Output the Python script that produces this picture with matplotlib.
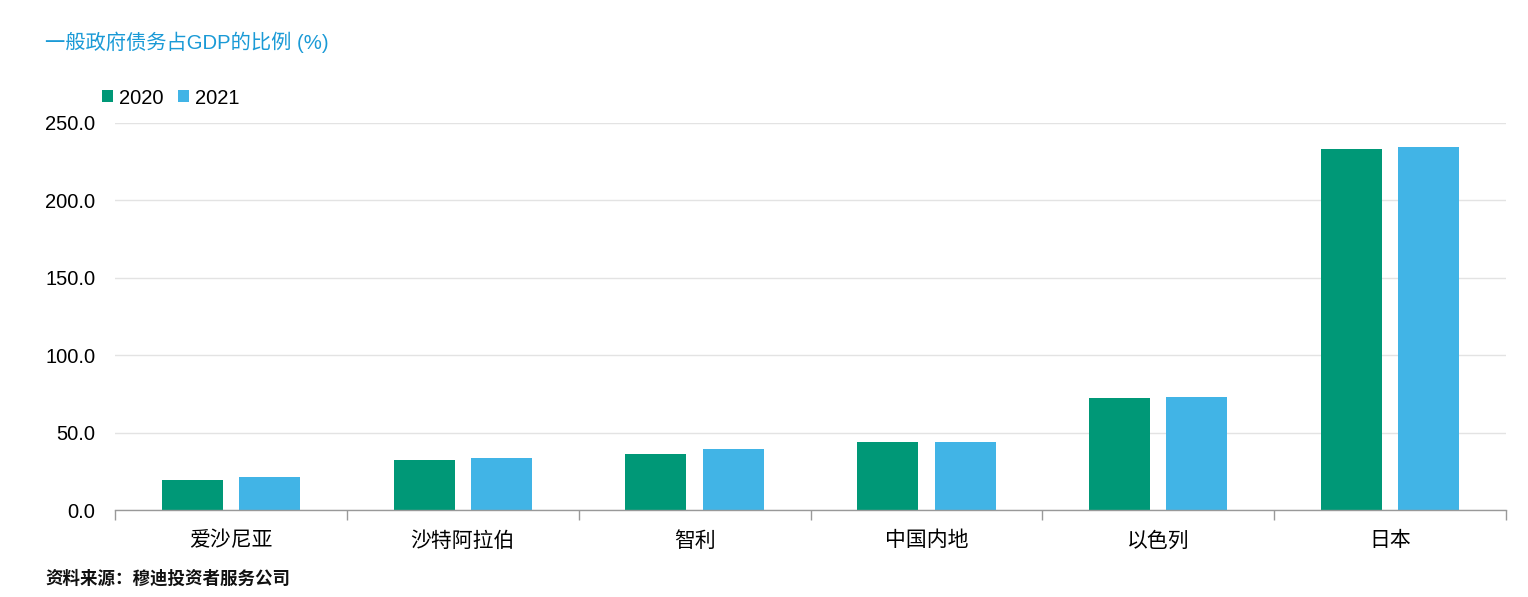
import matplotlib
matplotlib.use("Agg")
import matplotlib.pyplot as plt
import numpy as np

plt.rcParams['font.family'] = ['Liberation Sans', 'Noto Sans CJK SC', 'DejaVu Sans']

categories = ["爱沙尼亚", "沙特阿拉伯", "智利", "中国内地", "以色列", "日本"]
series_names = ["2020", "2021"]
values_2020 = [19.1, 32.6, 36.2, 43.9, 72.4, 233.4]
values_2021 = [21.6, 33.6, 39.1, 44.2, 73.0, 234.5]
yticks = [0, 50, 100, 150, 200, 250]

c2020 = "#009877"
c2021 = "#41b4e6"

fig = plt.figure(figsize=(15.28, 5.97), dpi=100)
ax = fig.add_axes([115/1528, 1-510/597, (1506-115)/1528, (510-123)/597])

x = np.arange(len(categories))
w = 0.263
off = 0.167
ax.bar(x - off, values_2020, width=w, color=c2020, label=series_names[0])
ax.bar(x + off, values_2021, width=w, color=c2021, label=series_names[1])

ax.set_xlim(-0.5, len(categories) - 0.5)
ax.set_ylim(0, 250)
ax.set_yticks(yticks)
ax.set_yticklabels([f"{v:.1f}" for v in yticks], fontsize=14.5)
ax.set_xticks(x)
ax.set_xticklabels(categories, fontsize=15)
ax.set_xticks(np.arange(-0.5, len(categories)), minor=True)
ax.tick_params(axis='x', which='major', length=0, pad=15)
ax.tick_params(axis='x', which='minor', length=7, color="#999999", width=1)
ax.tick_params(axis='y', length=0, pad=14)
ax.grid(axis='y', color="#e3e3e3", linewidth=1)
ax.set_axisbelow(True)
for s in ['top', 'right', 'left']:
    ax.spines[s].set_visible(False)
ax.spines['bottom'].set_color("#999999")
ax.spines['bottom'].set_linewidth(1)

fig.text(45/1528, 1-42/597, "一般政府债务占GDP的比例 (%)", color="#1a9ad6",
         fontsize=14.6, va='center', ha='left')
fig.text(45/1528, 1-578/597, "资料来源：穆迪投资者服务公司", color="#111111",
         fontsize=12.6, fontweight='bold', va='center', ha='left')

fig.legend(loc='center left', bbox_to_anchor=(102/1528, 1-98/597), ncol=2,
           frameon=False, fontsize=14.5, handlelength=0.55, handleheight=0.55,
           handletextpad=0.3, columnspacing=0.7, borderaxespad=0, borderpad=0)

fig.savefig("out.png", dpi=100, facecolor="white")
